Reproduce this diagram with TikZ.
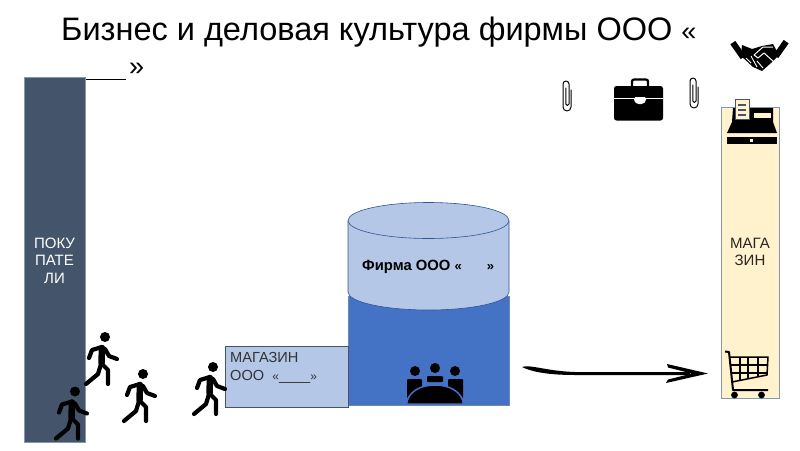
\documentclass[tikz,border=0pt]{standalone}
\usepackage{fontspec}
\setmainfont{Liberation Sans}
\definecolor{slate}{HTML}{44546A}
\definecolor{lightblue}{HTML}{B4C7E7}
\definecolor{midblue}{HTML}{4472C4}
\definecolor{cream}{HTML}{FFF2CC}
\definecolor{edgeblue}{HTML}{8497B0}
\definecolor{cylline}{HTML}{2F5597}
\tikzset{
  collabel/.style={align=center,font=\fontsize{15}{17.5}\selectfont,inner sep=0pt},
  walkline/.style={line width=4.2pt,line cap=round,line join=round,black},
  clipline/.style={line width=1pt,draw=black,fill=none,line cap=round,line join=round},
  walker/.pic={
    \fill (0,0) circle (5);
    \draw[walkline,line width=6.5pt] (-3,11)--(-3.5,26);
    \draw[walkline] (-3,10)--(-13,13)--(-16,21);
    \draw[walkline] (0,12)--(4,19)--(12,22);
    \draw[walkline] (-4,27)--(-7,37)--(-19,47);
    \draw[walkline] (-3,27)--(3,33)--(3,47);
  },
  paperclip/.pic={
    \draw[clipline] (8,10) -- (8,27) arc[start angle=0,end angle=180,radius=4] -- (0,4)
      arc[start angle=180,end angle=360,radius=3] -- (6,24) arc[start angle=0,end angle=180,radius=1.6] -- (2.8,8);
  }
}
\begin{document}
\begin{tikzpicture}[x=1pt,y=-1pt]
\useasboundingbox (0,0) rectangle (800,450);
% title
\node[anchor=base west,inner sep=0pt,font=\fontsize{32.5}{36}\selectfont] (title) at (61,40.5) {Бизнес и деловая культура фирмы ООО {\fontsize{27}{30}\selectfont«}};
\node[anchor=base west,inner sep=0pt,font=\fontsize{27}{30}\selectfont] (titleb) at (85,75) {\rule[-5pt]{41pt}{1.1pt}\kern3pt»};
% left column
\node[draw=edgeblue,line width=0.5pt,fill=slate,minimum width=61pt,minimum height=365pt,inner sep=0pt,anchor=north west] (buyers) at (24,77) {};
\node[collabel,text=white] (buyerstext) at (54.5,260.5) {ПОКУ\\ПАТЕ\\ЛИ};
% right column
\node[draw=edgeblue,line width=0.7pt,fill=cream,minimum width=58pt,minimum height=291pt,inner sep=0pt,anchor=north west] (shopcol) at (721,107) {};
\node[collabel,text=black!85] (shopcoltext) at (750,252) {МАГА\\ЗИН};
% dark base of the company
\fill[midblue,draw=cylline!70,line width=0.4pt] (348,296) rectangle (509,405);
% cylinder
\path[fill=lightblue,draw=cylline,line width=0.6pt] (348,221) -- (348,292) arc[start angle=180,end angle=0,x radius=80.5,y radius=18] -- (509,221);
\path[fill=lightblue,draw=cylline,line width=0.6pt] (428.5,220.5) ellipse[x radius=80.5,y radius=18];
\node[anchor=base west,inner sep=0pt,font=\fontsize{14.8}{16}\selectfont\bfseries] (firm) at (362,270) {Фирма ООО {\fontsize{13}{14}\selectfont«\kern25pt»}};
% shop box
\node[draw=slate,line width=0.8pt,fill=lightblue,minimum width=123.5pt,minimum height=61pt,inner sep=0pt,anchor=north west] (shop) at (224.5,346) {};
\node[anchor=north west,align=left,inner sep=0pt,font=\fontsize{14.6}{17.4}\selectfont,text=black!80] (shoptext) at (230,352.5) {МАГАЗИН\\ООО\ \ {\fontsize{12}{14}\selectfont«}\_\kern-0.4pt\_\kern-0.4pt\_\kern-0.4pt\_{\fontsize{12}{14}\selectfont»}};
% walkers
\foreach \x/\y in {105/337,143/374,75/391.5,213/367} \pic at (\x,\y) {walker};
% paperclips
\pic at (563,80) {paperclip};
\pic at (690,77) {paperclip};
% briefcase
\begin{scope}
\draw[line width=2.2pt,rounded corners=2pt] (632,87) -- (632,79.5) -- (648,79.5) -- (648,87);
\fill[rounded corners=2.5pt] (614,86) rectangle (663,120.5);
\draw[white,line width=0.9pt] (614,98) -- (634,98) (646,98) -- (663,98);
\fill[white,rounded corners=1.5pt] (634,97) -- (646,97) -- (646,101) -- (643,104) -- (637,104) -- (634,101) -- cycle;
\end{scope}
% handshake
\begin{scope}[line join=round]
\fill[rotate around={35:(738,50)}] (735,41) rectangle (741,59);
\fill[rotate around={-35:(781,49)}] (778,40) rectangle (784,58);
\fill (742,45) -- (752,49) -- (762,46) -- (773,44) -- (779,55) -- (771,63) -- (762,71) -- (753,67) -- (741,56) -- cycle;
\draw[white,line width=1pt] (773,47) -- (763,47) -- (754,55) -- (758,58) -- (764,53) -- (774,62);
\draw[white,line width=0.9pt] (746,58) -- (751,63) (751,56) -- (757,67) (757,61) -- (763,68);
\end{scope}
% cash register
\begin{scope}
\fill (733,108) -- (773,108) -- (773,122) -- (777,133) -- (727,133) -- (732,122) -- cycle;
\fill (727,136.5) rectangle (777,144);
\fill[cream] (750,139) rectangle (753,142);
\fill[cream] (754,113) rectangle (771,118);
\draw[slate,line width=0.9pt,fill=cream] (735,99.5) rectangle (749,119);
\fill[slate] (738,104) rectangle (746,106);
\fill[slate] (738,109) rectangle (746,110.5);
\fill[slate] (738,114) rectangle (746,115.5);
\end{scope}
% meeting
\begin{scope}
\foreach \x/\y in {415/371,435/368,455/371} \fill (\x,\y) circle (5);
\fill[rounded corners=1pt] (407,398) rectangle (422,379);
\fill[rounded corners=1pt] (448,379) rectangle (463,398);
\fill[rounded corners=1pt] (427,382) -- (427,376) -- (443,376) -- (443,382) -- cycle;
\fill[draw=midblue,line width=1.5pt] (406.5,404) .. controls (408,392) and (420,385) .. (435,385) .. controls (450,385) and (462,392) .. (463.5,404) -- cycle;
\end{scope}
% shopping cart
\begin{scope}[line join=round]
\draw[line width=2pt] (725,351.5) -- (729,352) -- (733,390) -- (768,390);
\draw[line width=1.5pt] (730,357) -- (768,357) -- (767,375) -- (732,382);
\draw[line width=1.2pt] (731,365) -- (767.5,365) (731.5,373) -- (767,373);
\foreach \x/\b in {740/380,748/378,758/376} \draw[line width=1.2pt] (\x,357) -- (\x,\b);
\fill (734.5,395) circle (3.4) (761.5,395) circle (3.4);
\end{scope}
% arrow
\coordinate (arrowstart) at (522,367);
\coordinate (arrowtip) at (708,373.5);
\coordinate (barbtop) at (667,364);
\coordinate (barbbot) at (666,383);
\fill (arrowstart) .. controls (530,364) and (545,371) .. (575,372) -- (690,372) -- (690,375) -- (575,375) .. controls (545,375) and (530,371) .. (arrowstart) -- cycle;
\fill (arrowtip) -- (barbtop) -- (668,367.5) -- (692,373.5) -- (668,379.5) -- (barbbot) -- cycle;
\end{tikzpicture}
\end{document}
